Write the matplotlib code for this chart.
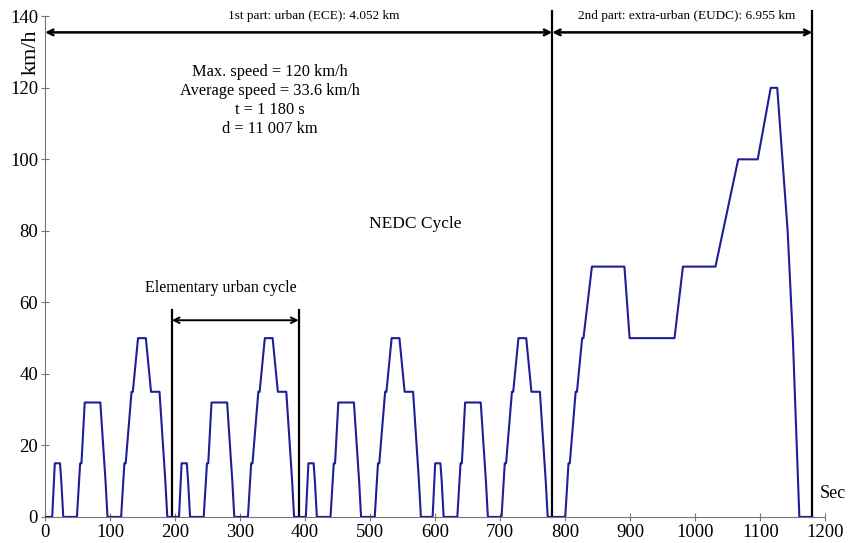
import numpy as np
import matplotlib.pyplot as plt

plt.rcParams['font.family'] = ['Liberation Serif', 'DejaVu Serif']

# ECE elementary urban cycle (195 s), breakpoints: time [s], speed [km/h]
ece_t = [0, 11, 15, 23, 25, 28, 49, 54, 56, 61, 85, 93, 96, 117, 122, 124, 133, 135,
         143, 155, 163, 176, 185, 188, 195]
ece_v = [0, 0, 15, 15, 10, 0, 0, 15, 15, 32, 32, 10, 0, 0, 15, 15, 35, 35,
         50, 50, 35, 35, 10, 0, 0]
n_ece = 4
ece_len = 195

# EUDC extra-urban cycle (400 s)
eudc_t = [0, 20, 25, 27, 36, 38, 46, 48, 61, 111, 119, 188, 201, 251, 286, 316,
          336, 346, 362, 370, 380, 400]
eudc_v = [0, 0, 15, 15, 35, 35, 50, 50, 70, 70, 50, 50, 70, 70, 100, 100,
          120, 120, 80, 50, 0, 0]

t = []
v = []
for k in range(n_ece):
    t += [x + k * ece_len for x in ece_t]
    v += ece_v
t += [x + n_ece * ece_len for x in eudc_t]
v += eudc_v

fig = plt.figure(figsize=(8.5, 5.43), dpi=100)
ax = fig.add_axes([0.053, 0.048, 0.918, 0.922])

ax.plot(t, v, color="#1e1e96", lw=1.5, zorder=3)

ax.set_xlim(0, 1200)
ax.set_ylim(0, 140)
ax.set_xticks(np.arange(0, 1201, 100))
ax.set_yticks(np.arange(0, 141, 20))
for s in ["top", "right"]:
    ax.spines[s].set_visible(False)
for s in ["left", "bottom"]:
    ax.spines[s].set_color("#777777")
ax.tick_params(direction="inout", length=6, color="#777777", labelsize=13.5, pad=2)

ax.text(-0.018, 130, "km/h", transform=ax.get_yaxis_transform(), rotation=90,
        fontsize=16, ha="center", va="center")
ax.text(1211, 6.5, "Sec", fontsize=13, ha="center", va="center")

# part boundaries
ax.plot([780, 780], [0, 141.5], color="black", lw=1.6, clip_on=False)
ax.plot([1180, 1180], [0, 141.5], color="black", lw=1.6, clip_on=False)
arrow = dict(arrowstyle="<->", color="black", lw=1.8, shrinkA=0, shrinkB=0)
ax.annotate("", xy=(0, 135.5), xytext=(780, 135.5), arrowprops=arrow, annotation_clip=False)
ax.annotate("", xy=(780, 135.5), xytext=(1180, 135.5), arrowprops=arrow, annotation_clip=False)
ax.text(413, 140, "1st part: urban (ECE): 4.052 km", fontsize=9.5, ha="center", va="center")
ax.text(986, 140, "2nd part: extra-urban (EUDC): 6.955 km", fontsize=9.5, ha="center", va="center")

# elementary urban cycle marker
ax.plot([195, 195], [0, 58], color="black", lw=1.6)
ax.plot([390, 390], [0, 58], color="black", lw=1.6)
arrow2 = dict(arrowstyle="<->", color="black", lw=1.4, shrinkA=0, shrinkB=0)
ax.annotate("", xy=(195, 55), xytext=(390, 55), arrowprops=arrow2)
ax.text(271, 64, "Elementary urban cycle", fontsize=11.5, ha="center", va="center")

ax.text(569, 82, "NEDC Cycle", fontsize=12.5, ha="center", va="center")
info = ["Max. speed = 120 km/h", "Average speed = 33.6 km/h", "t = 1 180 s", "d = 11 007 km"]
for i, line in enumerate(info):
    ax.text(346, 124.5 - i * 5.3, line, fontsize=11.8, ha="center", va="center")

plt.savefig("out.png", dpi=100)
